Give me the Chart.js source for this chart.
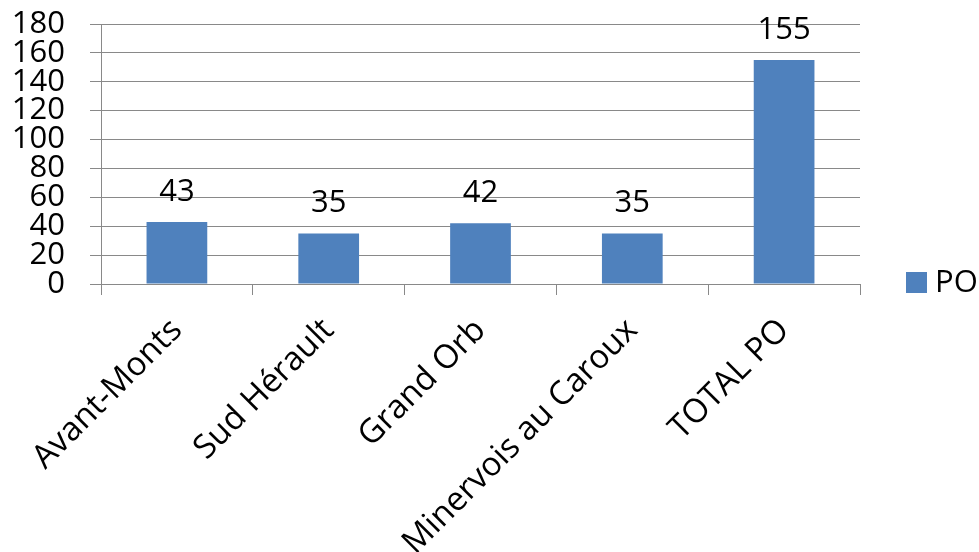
<!DOCTYPE html>
<html>
<head>
<meta charset="utf-8">
<script src="https://cdn.jsdelivr.net/npm/chart.js@4"></script>
<style>
  html, body { margin: 0; padding: 0; background: #fff; }
</style>
</head>
<body>
<canvas id="poChart" width="979" height="552"></canvas>

<script>
  // categories and values
  const categories = ["Avant-Monts", "Sud Hérault", "Grand Orb", "Minervois au Caroux", "TOTAL PO"];
  const poValues = [43, 35, 42, 35, 155];
  const seriesName = "PO";

  const barColor = "#4F81BD";
  const gridColor = "#898989";
  const fontFamily = "'Open Sans', sans-serif";

  // value labels above the bars + legend on the right
  const extras = {
    id: "extras",
    afterDatasetsDraw(chart) {
      const ctx = chart.ctx;
      const meta = chart.getDatasetMeta(0);
      ctx.save();
      ctx.fillStyle = "#000";
      ctx.font = "31px " + fontFamily;
      ctx.textAlign = "center";
      ctx.textBaseline = "alphabetic";
      meta.data.forEach((bar, i) => {
        ctx.fillText(String(chart.data.datasets[0].data[i]), bar.x, bar.y - 21);
      });

      // legend
      const area = chart.chartArea;
      const lx = area.right + 46;
      const ly = area.bottom - 1;
      ctx.fillStyle = chart.data.datasets[0].backgroundColor;
      ctx.fillRect(lx, ly - 11, 21, 21);
      ctx.fillStyle = "#000";
      ctx.textAlign = "left";
      ctx.textBaseline = "middle";
      ctx.fillText(chart.data.datasets[0].label, lx + 29, ly);
      ctx.restore();
    }
  };

  new Chart("poChart", {
    type: "bar",
    data: {
      labels: categories,
      datasets: [{
        label: seriesName,
        data: poValues,
        backgroundColor: barColor,
        borderWidth: 0,
        barPercentage: 0.4,
        categoryPercentage: 1.0
      }]
    },
    options: {
      responsive: false,
      animation: false,
      layout: {
        padding: { top: 0, right: 119, bottom: 0, left: 0 }
      },
      plugins: {
        legend: { display: false },
        tooltip: { enabled: false }
      },
      scales: {
        y: {
          min: 0,
          max: 180,
          ticks: {
            stepSize: 20,
            autoSkip: false,
            color: "#000",
            padding: 25,
            font: { family: fontFamily, size: 31 }
          },
          grid: {
            color: gridColor,
            tickLength: 11,
            lineWidth: 1
          },
          border: { color: gridColor },
          afterFit(scale) {
            scale.width = 101;
            scale.paddingTop = 24;
          }
        },
        x: {
          ticks: {
            minRotation: 45,
            maxRotation: 45,
            autoSkip: false,
            color: "#000",
            padding: 16,
            font: { family: fontFamily, size: 33 }
          },
          grid: {
            color: gridColor,
            drawOnChartArea: false,
            drawTicks: true,
            tickLength: 11,
            offset: true
          },
          border: { color: gridColor },
          afterFit(scale) { scale.height = 268; }
        }
      }
    },
    plugins: [extras]
  });
</script>
</body>
</html>
